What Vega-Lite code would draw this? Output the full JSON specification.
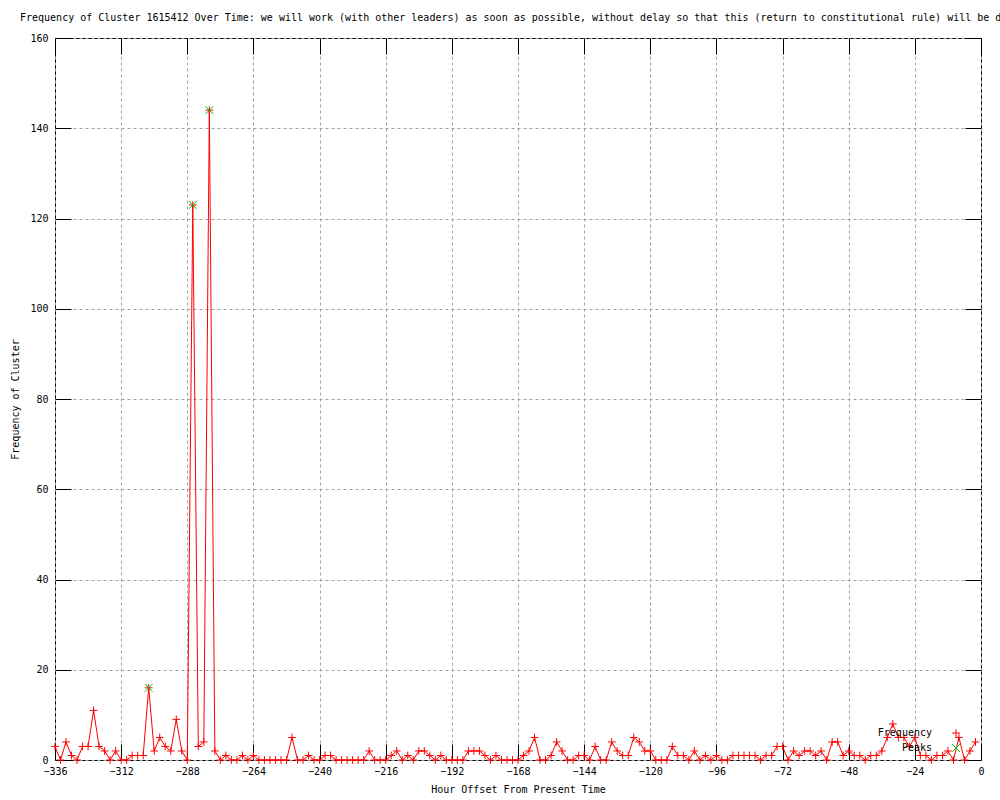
{
  "$schema": "https://vega.github.io/schema/vega-lite/v6.json",
  "width": 926,
  "height": 722,
  "autosize": {"type": "none"},
  "padding": {"left": 55, "top": 38, "right": 19, "bottom": 40},
  "background": "white",
  "title": {"text": "Frequency of Cluster 1615412 Over Time: we will work (with other leaders) as soon as possible, without delay so that this (return to constitutional rule) will be done", "anchor": "start", "frame": "group", "dx": -35, "offset": 10, "font": "DejaVu Sans Mono", "fontSize": 10, "fontWeight": "normal", "color": "black"},
  "data": {"values": [
    {"hour": -336, "count": 3, "series": "Frequency"}, {"hour": -334, "count": 0, "series": "Frequency"}, {"hour": -332, "count": 4, "series": "Frequency"}, {"hour": -330, "count": 1, "series": "Frequency"}, {"hour": -328, "count": 0, "series": "Frequency"}, {"hour": -326, "count": 3, "series": "Frequency"}, {"hour": -324, "count": 3, "series": "Frequency"}, {"hour": -322, "count": 11, "series": "Frequency"}, {"hour": -320, "count": 3, "series": "Frequency"}, {"hour": -318, "count": 2, "series": "Frequency"},
    {"hour": -316, "count": 0, "series": "Frequency"}, {"hour": -314, "count": 2, "series": "Frequency"}, {"hour": -312, "count": 0, "series": "Frequency"}, {"hour": -310, "count": 0, "series": "Frequency"}, {"hour": -308, "count": 1, "series": "Frequency"}, {"hour": -306, "count": 1, "series": "Frequency"}, {"hour": -304, "count": 1, "series": "Frequency"}, {"hour": -302, "count": 16, "series": "Frequency"}, {"hour": -300, "count": 2, "series": "Frequency"}, {"hour": -298, "count": 5, "series": "Frequency"},
    {"hour": -296, "count": 3, "series": "Frequency"}, {"hour": -294, "count": 2, "series": "Frequency"}, {"hour": -292, "count": 9, "series": "Frequency"}, {"hour": -290, "count": 2, "series": "Frequency"}, {"hour": -288, "count": 0, "series": "Frequency"}, {"hour": -286, "count": 123, "series": "Frequency"}, {"hour": -284, "count": 3, "series": "Frequency"}, {"hour": -282, "count": 4, "series": "Frequency"}, {"hour": -280, "count": 144, "series": "Frequency"}, {"hour": -278, "count": 2, "series": "Frequency"},
    {"hour": -276, "count": 0, "series": "Frequency"}, {"hour": -274, "count": 1, "series": "Frequency"}, {"hour": -272, "count": 0, "series": "Frequency"}, {"hour": -270, "count": 0, "series": "Frequency"}, {"hour": -268, "count": 1, "series": "Frequency"}, {"hour": -266, "count": 0, "series": "Frequency"}, {"hour": -264, "count": 1, "series": "Frequency"}, {"hour": -262, "count": 0, "series": "Frequency"}, {"hour": -260, "count": 0, "series": "Frequency"}, {"hour": -258, "count": 0, "series": "Frequency"},
    {"hour": -256, "count": 0, "series": "Frequency"}, {"hour": -254, "count": 0, "series": "Frequency"}, {"hour": -252, "count": 0, "series": "Frequency"}, {"hour": -250, "count": 5, "series": "Frequency"}, {"hour": -248, "count": 0, "series": "Frequency"}, {"hour": -246, "count": 0, "series": "Frequency"}, {"hour": -244, "count": 1, "series": "Frequency"}, {"hour": -242, "count": 0, "series": "Frequency"}, {"hour": -240, "count": 0, "series": "Frequency"}, {"hour": -238, "count": 1, "series": "Frequency"},
    {"hour": -236, "count": 1, "series": "Frequency"}, {"hour": -234, "count": 0, "series": "Frequency"}, {"hour": -232, "count": 0, "series": "Frequency"}, {"hour": -230, "count": 0, "series": "Frequency"}, {"hour": -228, "count": 0, "series": "Frequency"}, {"hour": -226, "count": 0, "series": "Frequency"}, {"hour": -224, "count": 0, "series": "Frequency"}, {"hour": -222, "count": 2, "series": "Frequency"}, {"hour": -220, "count": 0, "series": "Frequency"}, {"hour": -218, "count": 0, "series": "Frequency"},
    {"hour": -216, "count": 0, "series": "Frequency"}, {"hour": -214, "count": 1, "series": "Frequency"}, {"hour": -212, "count": 2, "series": "Frequency"}, {"hour": -210, "count": 0, "series": "Frequency"}, {"hour": -208, "count": 1, "series": "Frequency"}, {"hour": -206, "count": 0, "series": "Frequency"}, {"hour": -204, "count": 2, "series": "Frequency"}, {"hour": -202, "count": 2, "series": "Frequency"}, {"hour": -200, "count": 1, "series": "Frequency"}, {"hour": -198, "count": 0, "series": "Frequency"},
    {"hour": -196, "count": 1, "series": "Frequency"}, {"hour": -194, "count": 0, "series": "Frequency"}, {"hour": -192, "count": 0, "series": "Frequency"}, {"hour": -190, "count": 0, "series": "Frequency"}, {"hour": -188, "count": 0, "series": "Frequency"}, {"hour": -186, "count": 2, "series": "Frequency"}, {"hour": -184, "count": 2, "series": "Frequency"}, {"hour": -182, "count": 2, "series": "Frequency"}, {"hour": -180, "count": 1, "series": "Frequency"}, {"hour": -178, "count": 0, "series": "Frequency"},
    {"hour": -176, "count": 1, "series": "Frequency"}, {"hour": -174, "count": 0, "series": "Frequency"}, {"hour": -172, "count": 0, "series": "Frequency"}, {"hour": -170, "count": 0, "series": "Frequency"}, {"hour": -168, "count": 0, "series": "Frequency"}, {"hour": -166, "count": 1, "series": "Frequency"}, {"hour": -164, "count": 2, "series": "Frequency"}, {"hour": -162, "count": 5, "series": "Frequency"}, {"hour": -160, "count": 0, "series": "Frequency"}, {"hour": -158, "count": 0, "series": "Frequency"},
    {"hour": -156, "count": 1, "series": "Frequency"}, {"hour": -154, "count": 4, "series": "Frequency"}, {"hour": -152, "count": 2, "series": "Frequency"}, {"hour": -150, "count": 0, "series": "Frequency"}, {"hour": -148, "count": 0, "series": "Frequency"}, {"hour": -146, "count": 1, "series": "Frequency"}, {"hour": -144, "count": 1, "series": "Frequency"}, {"hour": -142, "count": 0, "series": "Frequency"}, {"hour": -140, "count": 3, "series": "Frequency"}, {"hour": -138, "count": 0, "series": "Frequency"},
    {"hour": -136, "count": 0, "series": "Frequency"}, {"hour": -134, "count": 4, "series": "Frequency"}, {"hour": -132, "count": 2, "series": "Frequency"}, {"hour": -130, "count": 1, "series": "Frequency"}, {"hour": -128, "count": 1, "series": "Frequency"}, {"hour": -126, "count": 5, "series": "Frequency"}, {"hour": -124, "count": 4, "series": "Frequency"}, {"hour": -122, "count": 2, "series": "Frequency"}, {"hour": -120, "count": 2, "series": "Frequency"}, {"hour": -118, "count": 0, "series": "Frequency"},
    {"hour": -116, "count": 0, "series": "Frequency"}, {"hour": -114, "count": 0, "series": "Frequency"}, {"hour": -112, "count": 3, "series": "Frequency"}, {"hour": -110, "count": 1, "series": "Frequency"}, {"hour": -108, "count": 1, "series": "Frequency"}, {"hour": -106, "count": 0, "series": "Frequency"}, {"hour": -104, "count": 2, "series": "Frequency"}, {"hour": -102, "count": 0, "series": "Frequency"}, {"hour": -100, "count": 1, "series": "Frequency"}, {"hour": -98, "count": 0, "series": "Frequency"},
    {"hour": -96, "count": 1, "series": "Frequency"}, {"hour": -94, "count": 0, "series": "Frequency"}, {"hour": -92, "count": 0, "series": "Frequency"}, {"hour": -90, "count": 1, "series": "Frequency"}, {"hour": -88, "count": 1, "series": "Frequency"}, {"hour": -86, "count": 1, "series": "Frequency"}, {"hour": -84, "count": 1, "series": "Frequency"}, {"hour": -82, "count": 1, "series": "Frequency"}, {"hour": -80, "count": 0, "series": "Frequency"}, {"hour": -78, "count": 1, "series": "Frequency"},
    {"hour": -76, "count": 1, "series": "Frequency"}, {"hour": -74, "count": 3, "series": "Frequency"}, {"hour": -72, "count": 3, "series": "Frequency"}, {"hour": -70, "count": 0, "series": "Frequency"}, {"hour": -68, "count": 2, "series": "Frequency"}, {"hour": -66, "count": 1, "series": "Frequency"}, {"hour": -64, "count": 2, "series": "Frequency"}, {"hour": -62, "count": 2, "series": "Frequency"}, {"hour": -60, "count": 1, "series": "Frequency"}, {"hour": -58, "count": 2, "series": "Frequency"},
    {"hour": -56, "count": 0, "series": "Frequency"}, {"hour": -54, "count": 4, "series": "Frequency"}, {"hour": -52, "count": 4, "series": "Frequency"}, {"hour": -50, "count": 1, "series": "Frequency"}, {"hour": -48, "count": 2, "series": "Frequency"}, {"hour": -46, "count": 1, "series": "Frequency"}, {"hour": -44, "count": 1, "series": "Frequency"}, {"hour": -42, "count": 0, "series": "Frequency"}, {"hour": -40, "count": 1, "series": "Frequency"}, {"hour": -38, "count": 1, "series": "Frequency"},
    {"hour": -36, "count": 2, "series": "Frequency"}, {"hour": -34, "count": 5, "series": "Frequency"}, {"hour": -32, "count": 8, "series": "Frequency"}, {"hour": -30, "count": 5, "series": "Frequency"}, {"hour": -28, "count": 5, "series": "Frequency"}, {"hour": -26, "count": 3, "series": "Frequency"}, {"hour": -24, "count": 5, "series": "Frequency"}, {"hour": -22, "count": 1, "series": "Frequency"}, {"hour": -20, "count": 1, "series": "Frequency"}, {"hour": -18, "count": 0, "series": "Frequency"},
    {"hour": -16, "count": 1, "series": "Frequency"}, {"hour": -14, "count": 1, "series": "Frequency"}, {"hour": -12, "count": 2, "series": "Frequency"}, {"hour": -10, "count": 0, "series": "Frequency"}, {"hour": -8, "count": 5, "series": "Frequency"}, {"hour": -6, "count": 0, "series": "Frequency"}, {"hour": -4, "count": 2, "series": "Frequency"}, {"hour": -2, "count": 4, "series": "Frequency"},
    {"hour": -302, "count": 16, "series": "Peaks"}, {"hour": -286, "count": 123, "series": "Peaks"}, {"hour": -280, "count": 144, "series": "Peaks"}
  ]},
  "config": {
    "view": {"stroke": "black", "strokeWidth": 1},
    "axis": {"labelFont": "DejaVu Sans Mono", "labelFontSize": 10, "labelColor": "black", "titleFont": "DejaVu Sans Mono", "titleFontSize": 10, "titleFontWeight": "normal", "titleColor": "black", "tickColor": "black", "tickWidth": 1, "domain": false, "gridColor": "#a0a0a0", "gridDash": [3, 3], "gridOpacity": 1, "gridWidth": 1},
    "legend": {"orient": "none", "legendX": 896, "legendY": 690, "title": null, "labelFont": "DejaVu Sans Mono", "labelFontSize": 10, "labelColor": "black", "labelAlign": "right", "labelOffset": -29, "rowPadding": 3, "symbolSize": 60, "symbolStrokeWidth": 1}
  },
  "layer": [
    {
      "transform": [{"filter": "datum.series === 'Frequency'"}],
      "mark": {"type": "line", "color": "#ff0000", "strokeWidth": 1},
      "encoding": {
        "x": {"field": "hour", "type": "quantitative", "scale": {"domain": [-336, 0], "nice": false, "zero": false},
              "axis": {"values": [-336, -312, -288, -264, -240, -216, -192, -168, -144, -120, -96, -72, -48, -24, 0], "title": "Hour Offset From Present Time", "tickSize": -16, "labelPadding": 22, "titlePadding": 8, "labelFlush": false}},
        "y": {"field": "count", "type": "quantitative", "scale": {"domain": [0, 160], "nice": false},
              "axis": {"values": [0, 20, 40, 60, 80, 100, 120, 140, 160], "title": "Frequency of Cluster", "tickSize": -16, "labelPadding": 23, "titlePadding": 9}}
      }
    },
    {
      "mark": {"type": "point", "filled": false, "size": 60, "strokeWidth": 1, "opacity": 1},
      "encoding": {
        "x": {"field": "hour", "type": "quantitative",
              "axis": {"orient": "top", "values": [-336, -312, -288, -264, -240, -216, -192, -168, -144, -120, -96, -72, -48, -24, 0], "labels": false, "title": null, "grid": false, "tickSize": -16}},
        "y": {"field": "count", "type": "quantitative",
              "axis": {"orient": "right", "values": [0, 20, 40, 60, 80, 100, 120, 140, 160], "labels": false, "title": null, "grid": false, "tickSize": -16}},
        "color": {"field": "series", "type": "nominal", "scale": {"domain": ["Frequency", "Peaks"], "range": ["#ff0000", "#00c000"]}, "legend": {"title": null}},
        "shape": {"field": "series", "type": "nominal", "scale": {"domain": ["Frequency", "Peaks"], "range": ["M-1,0H1M0,-1V1", "M-1,-1L1,1M-1,1L1,-1"]}, "legend": {"title": null}}
      }
    }
  ],
  "resolve": {"axis": {"x": "independent", "y": "independent"}}
}
